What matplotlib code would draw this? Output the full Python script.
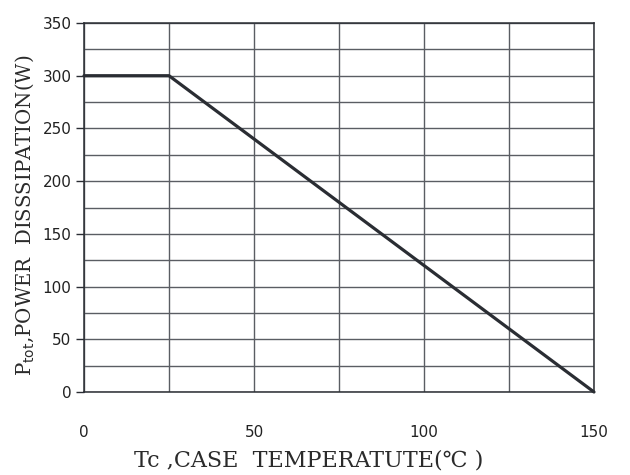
import matplotlib
matplotlib.use('Agg')
from matplotlib import pyplot as plt
from matplotlib.ticker import MultipleLocator

# derating curve: case temperature (C) vs. allowed dissipation (W)
case_temp = [0, 25, 150]
power = [300, 300, 0]

x_ticks = [0, 50, 100, 150]
y_ticks = [0, 50, 100, 150, 200, 250, 300, 350]

ink = '#2a2d33'
grid_col = '#5a5d63'

fig = plt.figure(figsize=(6.3, 4.75), dpi=100)
ax = fig.add_axes([84 / 630, 1 - 392 / 475, 510 / 630, 369 / 475])

ax.set_xlim(0, 150)
ax.set_ylim(0, 350)
ax.set_xticks(x_ticks)
ax.set_yticks(y_ticks)
ax.xaxis.set_minor_locator(MultipleLocator(25))
ax.yaxis.set_minor_locator(MultipleLocator(25))

ax.grid(True, which='both', color=grid_col, linewidth=1.0)
ax.set_axisbelow(True)
for s in ax.spines.values():
    s.set_color(ink)
    s.set_linewidth(1.1)

ax.plot(case_temp, power, color=ink, linewidth=2.3, solid_capstyle='round',
        clip_on=False, zorder=3)

ax.tick_params(axis='x', which='both', length=0, pad=24, labelsize=11,
               labelcolor='#222222')
ax.tick_params(axis='y', which='major', length=6, width=1.0, color=ink,
               pad=3, labelsize=11, labelcolor='#222222')
ax.tick_params(axis='y', which='minor', length=0)
for lab in ax.get_xticklabels() + ax.get_yticklabels():
    lab.set_fontfamily('DejaVu Sans')

fam = ['DejaVu Serif', 'DejaVu Sans']
ax.set_xlabel('Tc ,CASE  TEMPERATUTE(\u2103 )', family=fam, size=16,
              color='#2b2b2b')
ax.xaxis.set_label_coords(0.44, -0.155)
ax.set_ylabel(r'P$_{\mathrm{tot}}$,POWER  DISSSIPATION(W)', family=fam,
              size=14.2, color='#2b2b2b')
ax.yaxis.set_label_coords(-0.095, 0.48)

fig.savefig('out.png', dpi=100)
